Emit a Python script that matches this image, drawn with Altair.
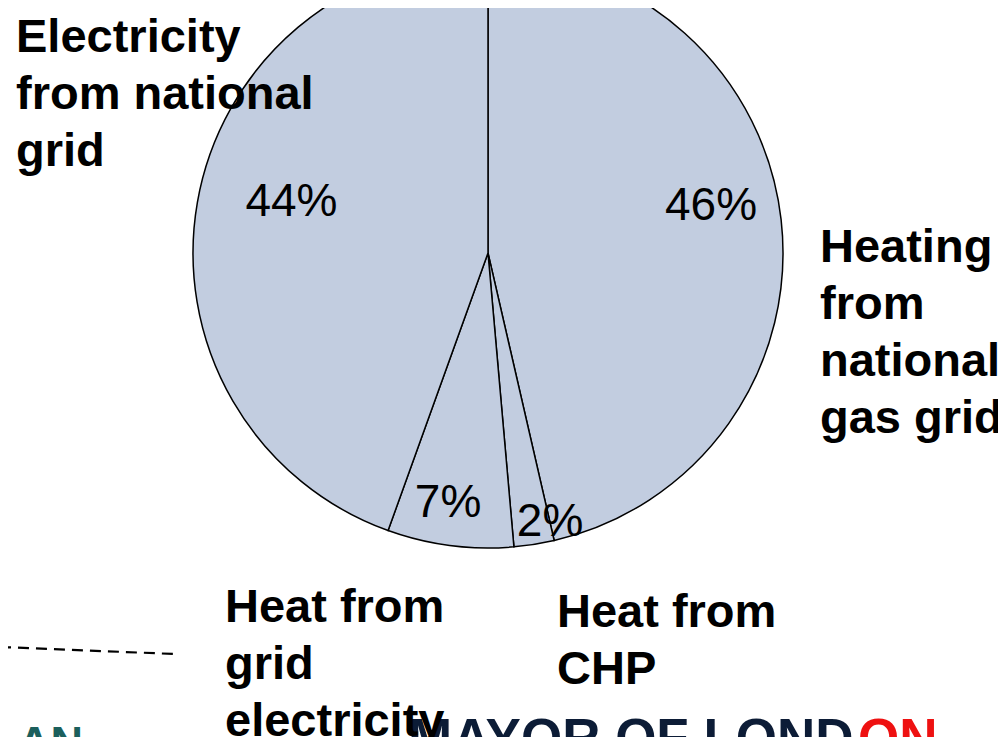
import altair as alt
import pandas as pd

# ---- data ----
categories = ["Heating from national gas grid", "Heat from CHP",
              "Heat from grid electricity", "Electricity from national grid"]
shares = [46.4, 2.2, 6.9, 44.5]
pct_labels = ["46%", "2%", "7%", "44%"]
slice_order = [0, 1, 2, 3]

df = pd.DataFrame({"category": categories, "value": shares,
                   "label": pct_labels, "ord": slice_order})

# ---- layout ----
W, H = 990, 729
CX, CY, R = 480, 245, 295
FILL = "#c2cde0"
FONT = "Liberation Sans"

# label placement: radius and angular nudge (degrees) per slice
lab_r = {"46%": 228, "2%": 276, "7%": 253, "44%": 203}
lab_da = {"46%": -5.5, "2%": -4.0, "7%": 1.7, "44%": 4.6}

def js_map(d):
    return "{" + ",".join(f"'{k}':{v}" for k, v in d.items()) + "}"

base = alt.Chart(df)

pie = base.mark_arc(outerRadius=R, stroke="black", strokeWidth=1.5,
                    fill=FILL).encode(
    theta=alt.Theta("value:Q", stack=True),
    order=alt.Order("ord:Q"),
    x=alt.value(CX), y=alt.value(CY),
)

pct = base.transform_joinaggregate(
    total="sum(value)"
).transform_window(
    cum="sum(value)", sort=[alt.SortField("ord")]
).transform_calculate(
    rr=f"{js_map(lab_r)}[datum.label]",
    da=f"{js_map(lab_da)}[datum.label]",
).transform_calculate(
    ang="2*PI*(datum.cum - datum.value/2)/datum.total + datum.da*PI/180"
).transform_calculate(
    lx=f"{CX} + datum.rr*sin(datum.ang)",
    ly=f"{CY} - datum.rr*cos(datum.ang)",
).mark_text(font=FONT, fontSize=46, align="center", baseline="middle",
            color="black").encode(
    x=alt.X("lx:Q", scale=None, axis=None),
    y=alt.Y("ly:Q", scale=None, axis=None),
    text="label:N",
)

def name(lines, x, y):
    return alt.Chart(df).transform_filter("datum.ord == 0").mark_text(
        font=FONT, fontSize=47, fontWeight="bold", align="left",
        baseline="alphabetic", lineHeight=57, color="black").encode(
        x=alt.value(x), y=alt.value(y), text=alt.value(lines))

n1 = name(["Electricity", "from national", "grid"], 8, 44)
n2 = name(["Heating", "from", "national", "gas grid"], 812, 254)
n3 = name(["Heat from", "grid", "electricity"], 217, 614)
n4 = name(["Heat from", "CHP"], 549, 619)

dash = alt.Chart(df).transform_filter("datum.ord == 0").mark_rule(
    strokeDash=[11, 7], strokeWidth=2.2, color="black").encode(
    x=alt.value(-8), y=alt.value(639), x2=alt.value(167), y2=alt.value(646))

def logo(txt, x, y, color, size):
    return alt.Chart(df).transform_filter("datum.ord == 0").mark_text(
        font=FONT, fontSize=size, fontWeight="bold", align="left",
        baseline="alphabetic", color=color).encode(
        x=alt.value(x), y=alt.value(y), text=alt.value(txt))

l1 = logo("AN", 10, 750, "#1b5f5c", 45)
l2 = logo("MAYOR OF LOND", 400, 748, "#0c1c36", 53)
l3 = logo("ON", 850, 748, "#ee1111", 53)

chart = alt.layer(pie, pct, dash, l1, l2, l3, n1, n2, n3, n4).properties(
    width=W, height=H, padding=0,
    autosize=alt.AutoSizeParams(type="none"),
).configure_view(stroke=None)

chart.save("out.html", embed_options={"renderer": "svg", "actions": False})
